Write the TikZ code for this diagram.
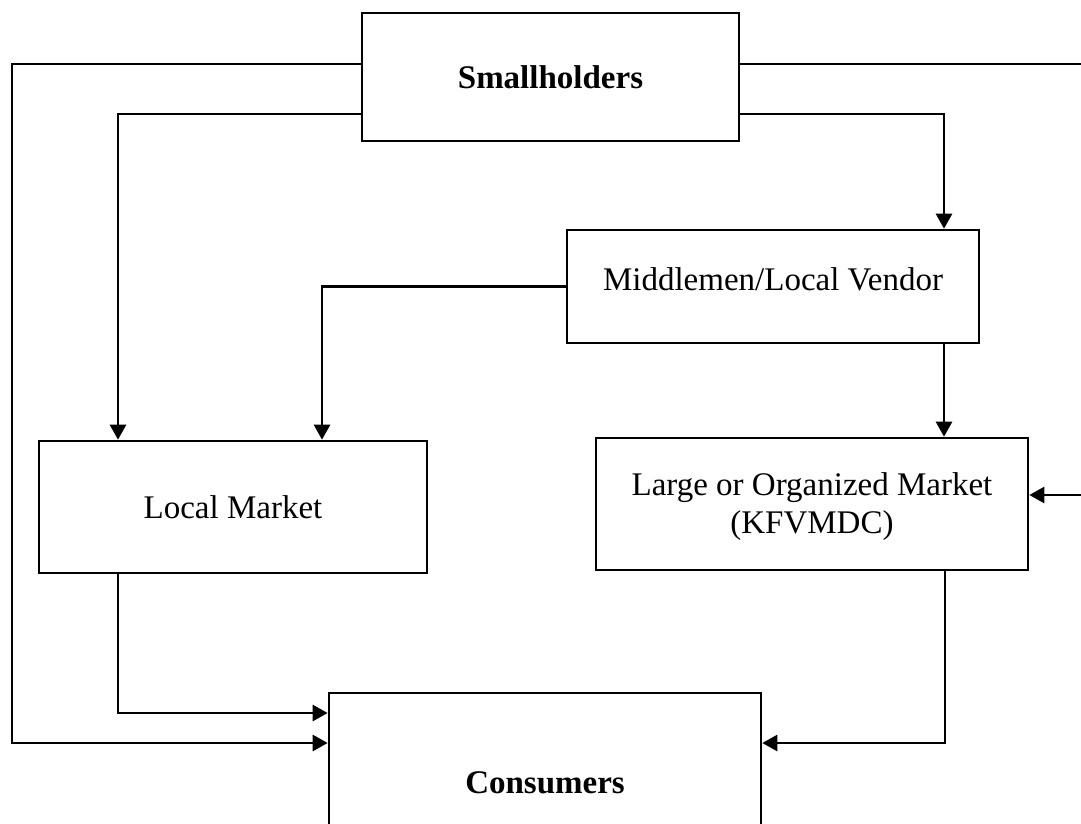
\documentclass[tikz,border=0pt]{standalone}
\usepackage{fontspec}
\setmainfont{Liberation Serif}
\usetikzlibrary{arrows.meta}
\begin{document}
\begin{tikzpicture}[x=1pt,y=-1pt,
  box/.style={draw=black,line width=2.6pt,fill=white,align=center,
    inner sep=0pt,font=\fontsize{33}{40}\selectfont},
  boxtext/.style={align=center,inner sep=0pt,font=\fontsize{33}{40}\selectfont},
  flow/.style={line width=2.6pt,-{Triangle[length=15pt,width=16pt]}}]
\useasboundingbox (0,0) rectangle (1081,824);

% boxes
\node[box,minimum width=377pt,minimum height=128pt,font=\fontsize{33}{40}\selectfont\bfseries]
  (sh) at (550.5,77) {Smallholders};
\node[box,minimum width=412pt,minimum height=113pt,
  label={[boxtext,yshift=7pt]center:Middlemen/Local Vendor}] (mid) at (773,286.5) {};
\node[box,minimum width=388pt,minimum height=132pt] (loc) at (233,507) {Local Market};
\node[box,minimum width=432pt,minimum height=132pt,
  label={[boxtext,yshift=-3pt]center:Large or Organized Market\\[-2pt](KFVMDC)}]
  (lg) at (812,504) {};
\node[box,minimum width=432pt,minimum height=180pt,font=\fontsize{33}{40}\selectfont\bfseries]
  (con) at (545,783) {Consumers};

% turning points outside the boxes
\coordinate (leftrail) at (12,64);
\coordinate (rightrail) at (1095,64);

% connectors
\draw[flow] ([yshift=13pt]sh.west) -- (leftrail) |- ([yshift=40pt]con.west);
\draw[flow] ([yshift=13pt]sh.east) -- (rightrail) |- ([yshift=9pt]lg.east);
\draw[flow] ([yshift=-37pt]sh.west) -| ([xshift=-115pt]loc.north);
\draw[flow] ([yshift=-37pt]sh.east) -| ([xshift=171pt]mid.north);
\draw[flow] (mid.west) -| ([xshift=89pt]loc.north);
\draw[flow] ([xshift=171pt]mid.south) -- ([xshift=171pt]mid.south |- lg.north);
\draw[flow] ([xshift=-115pt]loc.south) |- ([yshift=70pt]con.west);
\draw[flow] ([xshift=133pt]lg.south) |- ([yshift=40pt]con.east);
\end{tikzpicture}
\end{document}
